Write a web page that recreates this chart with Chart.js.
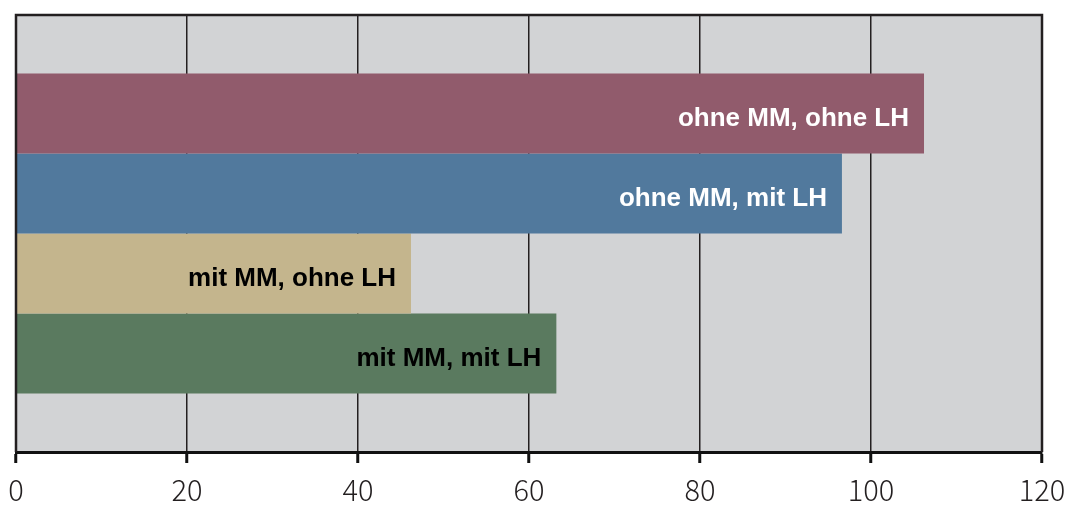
<!DOCTYPE html>
<html>
<head>
<meta charset="utf-8">
<script src="https://cdn.jsdelivr.net/npm/chart.js@4/dist/chart.umd.min.js"></script>
<style>
html,body{margin:0;padding:0;background:#fff;}
#wrap{width:1069px;height:505px;}
</style>
</head>
<body>
<div id="wrap"><canvas id="c" width="1069" height="505"></canvas></div>
<script>
const seriesLabels = ['ohne MM, ohne LH', 'ohne MM, mit LH', 'mit MM, ohne LH', 'mit MM, mit LH'];
const seriesValues = [106.2, 96.6, 46.2, 63.2];
const seriesColors = ['#915B6C', '#51799D', '#C4B58D', '#5A7A5F'];
const labelColors = ['#ffffff', '#ffffff', '#000000', '#000000'];
const xTicks = [0, 20, 40, 60, 80, 100, 120];

const datasets = seriesLabels.map((lab, i) => ({
  label: lab,
  data: [seriesValues[i]],
  backgroundColor: seriesColors[i],
  borderWidth: 0,
  barPercentage: 1,
  categoryPercentage: 0.732
}));

const bgPlugin = {
  id: 'bg',
  beforeDraw(chart) {
    const a = chart.chartArea, ctx = chart.ctx;
    ctx.save();
    ctx.fillStyle = '#D2D3D5';
    ctx.fillRect(a.left, a.top, a.right - a.left, a.bottom - a.top);
    ctx.restore();
  },
  afterDatasetsDraw(chart) {
    const a = chart.chartArea, ctx = chart.ctx;
    ctx.save();
    ctx.strokeStyle = '#231F20';
    ctx.lineWidth = 2.5;
    ctx.beginPath();
    ctx.moveTo(a.left, a.bottom);
    ctx.lineTo(a.left, a.top);
    ctx.lineTo(a.right, a.top);
    ctx.lineTo(a.right, a.bottom);
    ctx.stroke();
    ctx.font = 'bold 26px "Liberation Sans", Arial, sans-serif';
    ctx.textAlign = 'right';
    ctx.textBaseline = 'middle';
    chart.data.datasets.forEach((ds, i) => {
      const el = chart.getDatasetMeta(i).data[0];
      ctx.fillStyle = labelColors[i];
      ctx.fillText(ds.label, el.x - 15, el.y + 5);
    });
    ctx.restore();
  }
};

new Chart(document.getElementById('c'), {
  type: 'bar',
  data: { labels: [''], datasets },
  options: {
    indexAxis: 'y',
    responsive: false,
    animation: false,
    layout: { padding: { left: 16, right: 27, top: 15, bottom: 0 } },
    plugins: { legend: { display: false }, tooltip: { enabled: false } },
    scales: {
      y: { display: false },
      x: {
        min: 0, max: 120,
        afterBuildTicks(scale) { scale.ticks = xTicks.map(v => ({ value: v })); },
        afterFit(scale) { scale.paddingLeft = 0; scale.paddingRight = 0; scale.height = 53; },
        grid: { color: '#231F20', lineWidth: 1.5, tickColor: '#111', tickWidth: 3, tickLength: 11, drawOnChartArea: true },
        border: { color: '#111', width: 3 },
        ticks: {
          color: '#231F20',
          padding: 12,
          font: { family: '"Noto Sans CJK JP", "Noto Sans", sans-serif', size: 29, weight: 300, lineHeight: 1 },
          maxRotation: 0
        }
      }
    }
  },
  plugins: [bgPlugin]
});
</script>
</body>
</html>
